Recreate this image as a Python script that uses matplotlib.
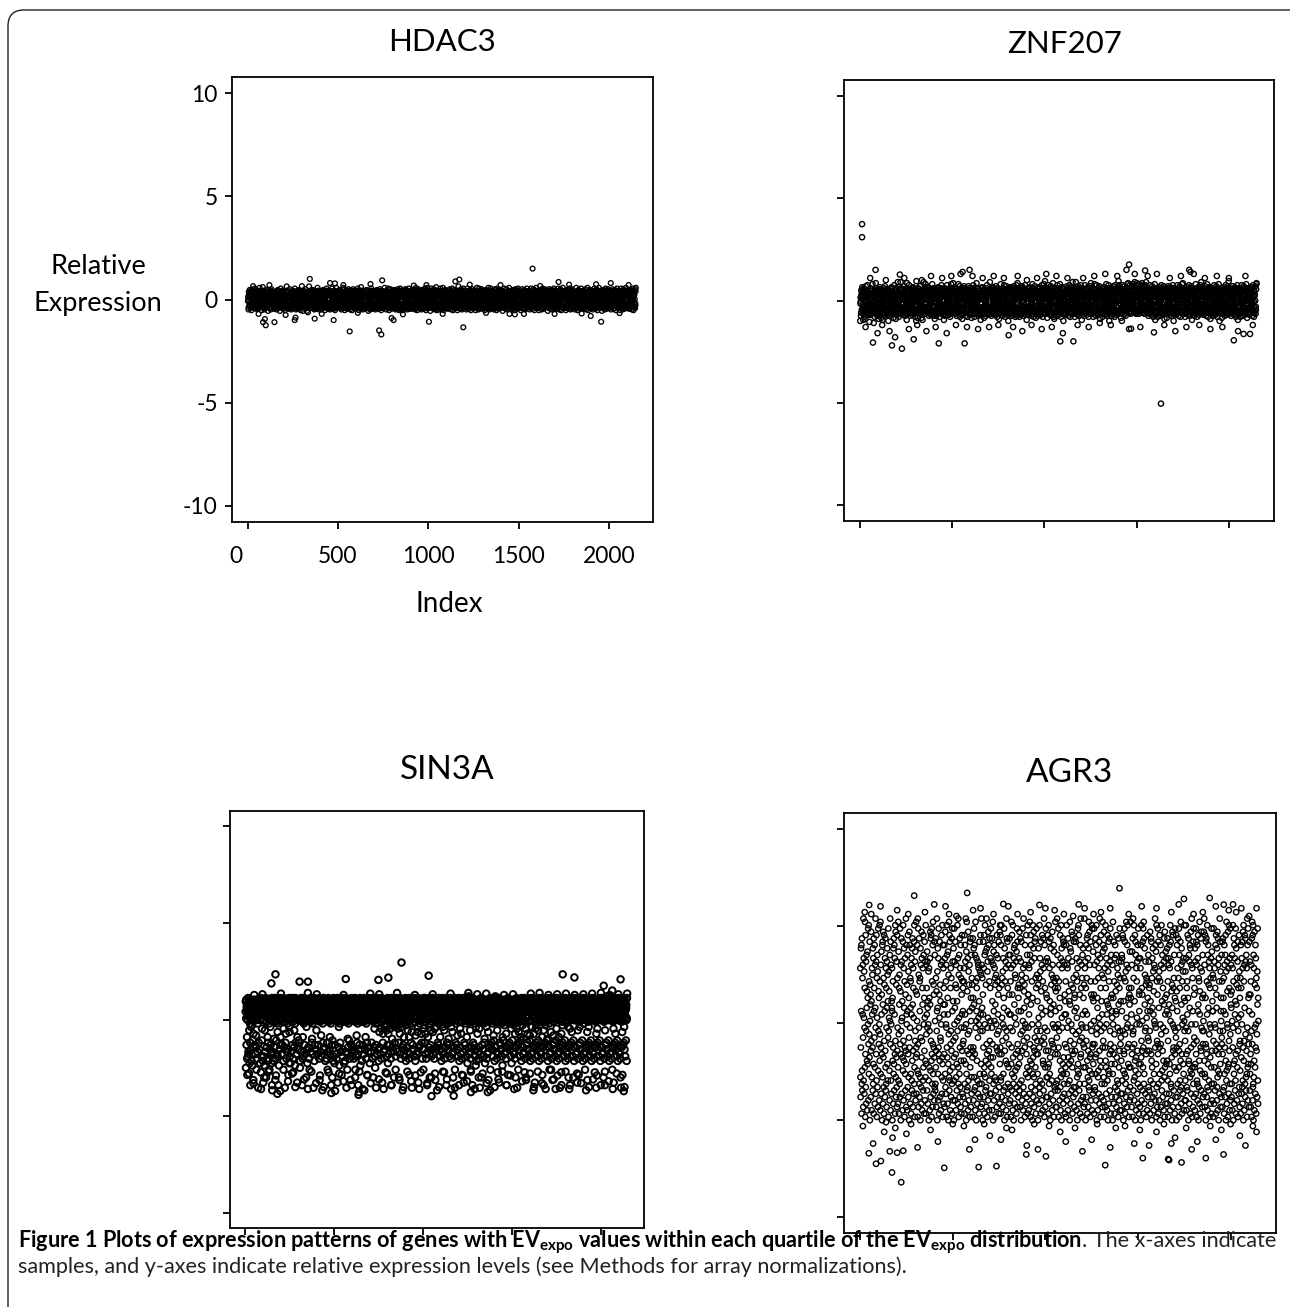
import numpy as np
import matplotlib
matplotlib.use("Agg")
import matplotlib.pyplot as plt
from matplotlib import font_manager
from matplotlib.patches import FancyBboxPatch
from matplotlib.transforms import IdentityTransform, ScaledTranslation

available = {f.name for f in font_manager.fontManager.ttflist}


def pick(*names):
    for n in names:
        if n in available:
            return n
    return "DejaVu Sans"


LABEL_FONT = pick("Lato", "Open Sans", "DejaVu Sans")
CAPTION_FONT = pick("Liberation Sans Narrow", "Lato", "DejaVu Sans")

plt.rcParams["mathtext.fontset"] = "custom"
plt.rcParams["mathtext.rm"] = CAPTION_FONT
plt.rcParams["mathtext.bf"] = CAPTION_FONT + ":bold"

# ---------------------------------------------------------------- data
N_SAMPLES = 2150          # array samples along the Index axis
X_TICKS = [0, 500, 1000, 1500, 2000]
Y_TICKS = [-10, -5, 0, 5, 10]
GENES = ["HDAC3", "ZNF207", "SIN3A", "AGR3"]

# Per-sample expression, one character per sample in index order.
# Characters are quantised levels; each coding lists (characters, first value, step).
DIGITS = "0123456789"
LOWER = "abcdefghijklmnopqrstuvwxyz"
UPPER_LO = "ABCDEFGHIJKLM"
UPPER_HI = "NOPQRSTUVWXYZ"

HDAC3_CODING = [(UPPER_LO, -0.86, 0.034), (LOWER, -0.418, 0.034), (UPPER_HI, 0.466, 0.034)]
hdac3_levels = (
    "kqmLbxtrewNdjspvazhgKuycofnimOlwqebtxrPagvkdsjMhun"
    "pfhrzaMwkbuqdeyQjcnitglovsKxmphrRbzfuwaejLgdckqtyn"
    "wlybNgdqoxcmJeksuvtarfhpizkLwqbOmegjydtxunsrcMfavp"
    "tdjxpbgrwLckmzsyeNhaqfuvoliJdnbkPtwxgrcmezqasyhMuf"
    "ecvmuKtiqrhynxgSbfazdowlpjMeksrcOvbqutnyLxgmdiwhaf"
    "zgsoaitqmePxhdjbLyrnvwkcufglMsbzNqxdoteaypwKrjmhiv"
    "mxqhwfJcnzyrbdkugeOstlvapimJxqtcwHnrbdgSyfheuzkoal"
    "yrekdgvpNtxcbhfsiuLzqmwajolyMkrenxbvQdtpcszhLgwuim"
    "hbtqaymrLkgvxofzpdNescwjuniKblqrthdzPayxgmvocMsewf"
    "nafzcLvexshgrqbdPmtwkyujoilMpczabKrenvgQxsdhftyuwm"
    "qcpgxvtebNhysawmkzLrdiuofjlnQbcvetxOgKmhrpsawyzdMk"
    "gwvskeadOzrnqhtcbLmxyfpijulKgsvdwOneazqtrbyxhMckpf"
    "uidmnyrhzPqgcxwKeabsvtljfkoRmdiqyuzhgLnwcexrbaMspt"
    "lkrwqdzNbusgetcphyJxamvifnoLkwrqzsPbdgutcehMxyaljv"
    "setybghLxuawrqzcNpdmvkfjoiMltesyOrbghuaKxwzqncdvpm"
    "ajxgrwmtQbsdhkeyuLnzcvpfoliPjaxgrKwmtbsOdhkeyMunzq"
    "rmyuhxefbpNczqagkwLsdtvjolnMrmOyuhxefbKpczqaPgkwLs"
    "bnzqewcyatKrdhsxgMuvfpjOlimbNnzqewLcyatrdPhsxgMuvf"
    "dvksapzgtcMmyehruNwbqxfjoliLdvkQsapzgtKcmyehOrwbqx"
    "xhcdrqmsepaLgzyNwubtvkfjonMixhcdPrqmsKepagzyQwubtv"
    "cteawymqhksJdgrzuPbvnxflopiMcteOawymLqhksdgRrzubKv"
    "fumrbtxwdnqeLkszaPhyvcgjoliMfumQrbtxKwdnqeskNzahyv"
    "oqeynctsjbwMfakrvhxOuzdgmlpLiqeyPnctsKjbwfakrNvhxu"
    "vyfpxzanetrKbqhcmSwugdsiljoMvyfOpxzaLnetrbqhPcmwug"
    "izdqmuwgvscLfkhatPeyrbonxjlMizdNqmuwKgvscfkhOateyr"
    "wqvagbhnrmzdKsxtueyQpfcloijLwqvPagbhnMrmzdsxtOueyp"
    "hmsxjeqcazrwKgnbdvtuNfyoplilMhmsxQjeqcLazrwgnbPdvt"
    "kbwetnuzhysdLmaxgqcrOvpfjoimKbwePtnuzMhysdmaxNgqcr"
    "naxqrvkeyubzJgdmtswcPhfpolijMnaxqOrvkeLyubzgdmtQsw"
    "ergysfqxctmwLbnadkzuNhvjpoliKergyOsfqxMctmwbnadPkz"
    "gtczymbwrqxaKesnhudfOvjkpliMgtczNymbwLrqxaesnhPudf"
    "yjdvqgrktnzmLxsbwacePuhfiolpMyjdvOqgrkKtnzmxsbwQac"
    "mrnbchezatgsKqwdxvyuNfjkolpiLmrnbPchezMatgsqwdOxvy"
    "tsxwhqnvcdyeJbgrkzamOufjpliMtsxwNhqnvLcdyebgrPkzam"
    "qbhzkecxvrsdMtynuwagPflpjioLqbhzOkecxKvrsdtynQuwag"
    "dkyrxsqhzamvKcntwebgNufplojiMdkyrPxsqhLzamvcntOweb"
    "zhgtmqkwsxydLbrcnaevQufpijolKzhgtNmqkwMsxydbrcPnae"
    "bexcfnysgqzkMwrtdvahOujmpliLbexcQfnysKgqzkwrtNdvah"
    "xcaqzdrehwmbLktgsynvPufjoliMxcaqOzdreKhwmbktgQsynv"
    "ryqmntckzdgsJwaexbhvNufplojiLryqmPntckMzdgswaeOxbh"
    "saxgefzqkrmyLdwncbtvOuhpilojMsaxgNefzqKkrmydwnPcbt"
    "hrmazqydbscgKtxwnevkPufjoliLhrmaOzqydMbscgtxwQnevk"
    "fdkzqbmrwsgxMtcnaheyNujpliovLfdkPzqbmKrwsgtcnOaheyQ"
)
hdac3_outliers = [
    (1578, 1.5), (344, 1.0), (745, 0.93), (456, 0.8), (483, 0.78), (1172, 0.97),
    (1150, 0.88), (1722, 0.85), (2011, 0.8), (565, -1.55), (728, -1.5), (740, -1.7),
    (1194, -1.35), (1004, -1.08), (1958, -1.08), (85, -1.1), (100, -1.25), (148, -1.1),
    (797, -0.9), (808, -1.0), (371, -0.93), (476, -1.0), (260, -1.0), (265, -0.88),
    (1900, -0.8), (1450, -0.7), (1530, -0.7), (60, -0.7), (95, -0.95),
    (30, 0.65), (120, 0.7), (210, -0.75), (300, 0.65), (410, -0.7), (530, 0.7),
    (610, -0.65), (680, 0.75), (860, -0.72), (920, 0.68), (990, 0.7), (1080, -0.7),
    (1230, 0.72), (1320, -0.65), (1400, 0.7), (1480, -0.72), (1620, 0.66), (1700, -0.7),
    (1780, 0.72), (1850, -0.68), (1930, 0.74), (2060, -0.66), (2110, 0.7),
]

ZNF207_CODING = [(UPPER_LO, -1.3, 0.05), (LOWER, -0.65, 0.05), (UPPER_HI, 0.65, 0.05)]
znf207_levels = (
    "GkqmLbxtrewNdjspvHazhgKuycofnImOlwqebtxrPagvkdsjMhuFn"
    "pfhrzaMwkbuqdeyQjcnitgElovsKxmphrRbzfuwaejLgdckqtyIn"
    "wlybNgdqoxcmJeksuvtHarfhpizkLwqbOmegjydtxunsrcMfavpG"
    "tdjxpbgrwLckmzsyeNhaqfuvoliJdnbkPtwxgrcmIezqasyhMufS"
    "ecvmuKtiqrhynxgSbfazdowlpjMeksrcOvbqutnyLxgmdiwhaHfR"
    "zgsoaitqmePxhdjbLyrnvwkcufglMsbzNqxdoteaypwKrjmhivGT"
    "mxqhwfJcnzyrbdkugeOstlvapimJxqtcwHnrbdgSyfheuzkoalQ"
    "yrekdgvpNtxcbhfsiuLzqmwajolyMkrenxbvQdtpcszhLgwuimI"
    "hbtqaymrLkgvxofzpdNescwjuniKblqrthdzPayxgmvocMsewfH"
    "nafzcLvexshgrqbdPmtwkyujoilMpczabKrenvgQxsdhftyuwmR"
    "qcpgxvtebNhysawmkzLrdiuofjlnQbcvetxOgKmhrpsawyzdMkI"
    "gwvskeadOzrnqhtcbLmxyfpijulKgsvdwOneazqtrbyxhMckpfJ"
    "uidmnyrhzPqgcxwKeabsvtljfkoRmdiqyuzhgLnwcexrbaMsptH"
    "lkrwqdzNbusgetcphyJxamvifnoLkwrqzsPbdgutcehMxyaljvS"
    "setybghLxuawrqzcNpdmvkfjoiMltesyOrbghuaKxwzqncdvpmI"
    "ajxgrwmtQbsdhkeyuLnzcvpfoliPjaxgrKwmtbsOdhkeyMunzqG"
    "rmyuhxefbpNczqagkwLsdtvjolnMrmOyuhxefbKpczqaPgkwLsR"
    "bnzqewcyatKrdhsxgMuvfpjOlimbNnzqewLcyatrdPhsxgMuvfH"
    "dvksapzgtcMmyehruNwbqxfjoliLdvkQsapzgtKcmyehOrwbqxJ"
    "xhcdrqmsepaLgzyNwubtvkfjonMixhcdPrqmsKepagzyQwubtvT"
    "cteawymqhksJdgrzuPbvnxflopiMcteOawymLqhksdgRrzubKvI"
    "fumrbtxwdnqeLkszaPhyvcgjoliMfumQrbtxKwdnqeskNzahyvG"
    "oqeynctsjbwMfakrvhxOuzdgmlpLiqeyPnctsKjbwfakrNvhxuS"
    "vyfpxzanetrKbqhcmSwugdsiljoMvyfOpxzaLnetrbqhPcmwugH"
    "izdqmuwgvscLfkhatPeyrbonxjlMizdNqmuwKgvscfkhOateyrR"
    "wqvagbhnrmzdKsxtueyQpfcloijLwqvPagbhnMrmzdsxtOueypI"
    "hmsxjeqcazrwKgnbdvtuNfyoplilMhmsxQjeqcLazrwgnbPdvtG"
    "kbwetnuzhysdLmaxgqcrOvpfjoimKbwePtnuzMhysdmaxNgqcrT"
    "PnaxqrvkeyubzJgdmtswcPhfpolijMnaxqOrvkeLyubzgdmtQsw"
    "eRgysfqxctmwPbnadkzuNhvjpoliQergyOsfqxSctmwbnadPkzR"
    "gtczymbwrqxaQesnhudfOvjkpliRgtczNymbwPrqxaesnhPudfS"
    "yjdvqgrktnzmLxsbwacePuhfiolpMyjdvOqgrkKtnzmxsbwQacH"
    "mrnbchezatgsKqwdxvyuNfjkolpiLmrnbPchezMatgsqwdOxvyI"
    "tsxwhqnvcdyeJbgrkzamOufjpliMtsxwNhqnvLcdyebgrPkzamG"
    "qbhzkecxvrsdMtynuwagPflpjioLqbhzOkecxKvrsdtynQuwagR"
    "dkyrxsqhzamvKcntwebgNufplojiMdkyrPxsqhLzamvcntOwebH"
    "zhgtmqkwsxydLbrcnaevQufpijolKzhgtNmqkwMsxydbrcPnaeS"
    "bexcfnysgqzkMwrtdvahOujmpliLbexcQfnysKgqzkwrtNdvahI"
    "xcaqzdrehwmbLktgsynvPufjoliMxcaqOzdreKhwmbktgQsynvG"
    "ryqmntckzdgsJwaexbhvNufplojiLryqmPntckMzdgswaeOxbhT"
    "saxgefzqkrmyLdwncbtvOuhpilojMsaxgNefzqKkrmydwnPcbtH"
    "hrmazqydbscgKtxwnevkPufjoliLhrmaOzqydMbscgtxwQnevkJ"
    "fdkzqbmrwsgxMtcnaheyNujpliovLfdkPzqbmKrwsgtcnOaheyQR"
)
znf207_outliers = [
    (11, 3.74), (11, 3.1), (1632, -5.05), (84, 1.5), (1459, 1.76), (1546, 1.47),
    (1785, 1.5), (1792, 1.4), (594, 1.5), (556, 1.4), (216, 1.27), (173, -2.2),
    (227, -2.36), (70, -2.06), (427, -2.1), (567, -2.1), (1157, -2.0), (1086, -2.0),
    (2027, -1.95), (806, -1.7), (1594, -1.56), (1459, -1.4), (1470, -1.38),
    (2080, -1.64), (2115, -1.64), (291, -1.9),
    (30, -1.3), (55, 1.1), (95, -1.6), (120, -1.2), (140, 1.0), (160, -1.5), (190, -1.8),
    (240, 1.1), (265, -1.4), (310, -1.2), (335, 1.0), (360, -1.5), (385, 1.2), (410, -1.3),
    (445, 1.1), (470, -1.6), (495, 1.2), (520, -1.2), (545, 1.3), (580, -1.3), (610, 1.2),
    (640, -1.4), (665, 1.1), (700, -1.3), (725, 1.2), (750, -1.2), (780, 1.1), (830, -1.3),
    (855, 1.2), (880, -1.5), (905, 1.0), (930, -1.2), (960, 1.1), (985, -1.4), (1010, 1.3),
    (1040, -1.3), (1065, 1.2), (1100, -1.6), (1125, 1.1), (1180, -1.2), (1210, 1.1),
    (1240, -1.3), (1270, 1.2), (1300, -1.1), (1330, 1.3), (1360, -1.2), (1395, 1.2),
    (1420, -1.0), (1445, 1.5), (1490, 1.3), (1520, -1.3), (1560, 1.2), (1610, 1.3),
    (1650, -1.2), (1680, 1.1), (1710, -1.5), (1740, 1.2), (1770, -1.3), (1810, 1.3),
    (1840, -1.2), (1870, 1.1), (1900, -1.4), (1935, 1.2), (1965, -1.3), (2000, 1.1),
    (2050, -1.5), (2090, 1.2), (2130, -1.2),
]

SIN3A_CODING = [(DIGITS, -3.8, 0.133), (UPPER_LO, -2.5, 0.118),
                (LOWER, -1.0, 0.088), (UPPER_HI, 1.27, 0.035)]
sin3a_levels = (
    "qwAmxKtrbE7lsFyoHnwqGfuCrjL3xvIhtpDswiBqlMvx5dJumNr"
    "vKrxtGnwqcJulEvmxHjtw2qsLpvxIurwCtvl8yqFxsMgwOrvDu4"
    "tFxlqBwvfsHrnuy6kxJtpwqDbrvLmsuEjx9wlIthvKqrGosyCw1"
    "sHwqnvDrxaltJuymE5wkqrMsvxGjtpeFwu3qolBrvxIsytKbmPu"
    "uqGxrmKvwtlsDgyqJknu2vrxLwdtqEsopHuvjwIrx7tlyCheqFv"
    "rwCvtnHxqsluKymkE8rwqvJfxutBjsyLwoqrGvnx4btlIupsMqw"
    "xtLsqvDrnwlyHuqmx3kvEbtrFswjqyKuoxGlwvpq6rhtIsxCnuQ"
    "qvJuxrElt9wmsyqHknvrxLuatwGjpsq2lvoyDxrtKwnumsIqfvO"
    "tvGqxwrmKsulnEy5vqkxHtrwcsFuplq1vjwLxoyImrtsJnquDvl"
    "uxrEwqtLlvnsHmy8kwqrxIvbuGtpjs3qwvKlxoMmrDtywFnsqCu"
    "wsKvqxtGrnuElmyq4krwvxJhstBjupqLvwoHlxr7mysFntvIqkN"
    "rqCxtwvDmsuHlynq2kwxGrvatsJjqupMvwxEolr5mtsKyqnFuvI"
    "vxJtqwrEnsulHmyk9vqxFwrctsLupjvG3qxwolrKtmysBnqvIku"
    "qwDxvtrKsnulGmyk1qwvIxrbtsEjupvL7qwolxHrtmsJynqCvuP"
    "xtHvqwrLsnluEmyq6kvxJwrgtsFupjqK2vxwolrGtmsIynvDquO"
    "eJxpvusGnqgwEykt4rmuLdxvlqHiwspIthvx8jruFfqwnoKysCl"
    "dqGtmuvrKnwgsxEkqyl3vtaJwruiHoxvp6sqhLwtjrFxmvIyluQ"
    "piHwrgvuLkqtx5ndwGysorEqvhtJlwx1jusKmvrbIqwpFtxkyuD"
    "ilJsxkvtHrfqnuEwmbt7ysxGvrloLquwe2ptjxKvsrqIkwmFyuN"
    "qkDctrnxGuwmsvHqehy4ltxJrwjvuKpos8qtdwLxrvEunkqIygs"
    "uqLiktyrGdvxmEwqsp3ultHbxnvrJqowy6sjtKuxfvFqwrIkmyO"
    "eyGslrtqEwgvmH5unxstJhrq1pvwLlxouKyqjwsFrtbvIkxmqDu"
    "suHylhtwGrkxv8fqsEmunJwtrx3yovLlqspKjwtaIuxrvFnkqyP"
    "svEhqtkGrwexlH6vuqnJstrm2yoxLwjvqKlpusIcwrtFxkqvyDn"
    "sqJgtwlGrdxvE7kuqsHnwyt4rmoLxlvKwqsIjptuFbvxrCqwkyQ"
    "zsGqtlvHrfwxE9ukqvJtns3ymrLxloKwvqIpujFtsBhxvwDrkqO"
    "dvHsqtlEwrgxJ2kvunGqys6tmrKloxwIvpuFqjsLtavCrxwkqnP"
    "hvEsqlGtwreH5xukvJqnsy1mtrKlowLxqvIjpuFstcMrwxqDvky"
    "zvJsqlHtrwEfkx8uvqGnys4mtrLxloKwqvIpujFstBbrxMvwqkN"
    "ivGstqHlrwEdkx3uqvJnys7mtrKlowLxvqIjpuFstgCrwxMvkqO"
    "pHswiGqlvxEdum6rtkJywgq2nsuKvpxLewqmIuxkFrvbMtlsDyo"
    "xoJiurGwatHvly8qkxEsgwn5rvuKmtqLdvrIkxtFnwqMcsuDlyP"
    "xwGlthHvqrEosy1wdnJxtq4kuvKgrwLiptIxlqFwvfMsrnDuyQk"
    "uqHolrGvxsEytb7mwuJnqf3rtvKkxsLlisIwqnFvrxMaltDuyN"
    "puJvjwGrxtHlye9qvsEmwu5xnrKtckLquqIxrmFvwtMlsgDyqO"
    "oqGrvnHxbtElup2sqwJmxv8drytKkiqLurwIvtnFxqsMluyDkP"
    "oxHlwvGpqrEhts6xnuJmvg3wqtKrlsLyexIstqFvrnMwlyDuqN"
    "lvJoyxGrtwHnum4sqfEvxk7rwtKhlyLusqIvuxFrltMwmsDyqO"
    "vjGwxoHymrEtsn1quvJlxe5wrkKtqhLvstIvqxFwrmMsulDnyP"
    "wvHlxoGmrtEywn8squJkvx2drlKwtgLqsuIxrwFqtlMvnsDmyQ"
    "vwJolxGrmyHsnt6vqkEuxw3frvKltqLszwIsvqFxtrMnulDmyN"
    "vwGxolHrmtEsyq9nuvJkxg4rwlKtqsLvdrIqxtFwvmMsulDynO"
    "qxHwolGrtmEysn2qvkJuxe7rwtKlqsLvhvIxtqFwrnMsulDmyP"
)
# lower scatter beneath the dense band (index, value)
sin3a_lower = [
    (20, -2.8), (45, -3.3), (62, -2.6), (88, -3.6), (105, -3.0), (131, -2.7), (150, -3.4),
    (172, -2.9), (196, -3.7), (214, -2.6), (240, -3.2), (263, -2.8), (281, -3.5), (307, -2.5),
    (330, -3.1), (352, -3.6), (371, -2.7), (398, -3.3), (420, -2.9), (441, -3.5), (463, -2.6),
    (489, -3.0), (505, -3.7), (528, -2.8), (552, -3.2), (574, -2.6), (597, -3.4), (618, -3.0),
    (642, -2.7), (660, -3.6), (688, -2.9), (705, -3.3), (731, -2.5), (752, -3.1), (778, -3.6),
    (797, -2.8), (820, -3.4), (846, -2.6), (865, -3.0), (890, -3.5), (912, -2.7), (934, -3.2),
    (957, -2.9), (979, -3.6), (1002, -2.6), (1024, -3.3), (1047, -3.0), (1068, -2.8),
    (1090, -3.5), (1113, -2.7), (1135, -3.1), (1158, -3.6), (1180, -2.6), (1203, -3.4),
    (1225, -2.9), (1248, -3.2), (1270, -2.7), (1291, -3.6), (1314, -3.0), (1336, -2.8),
    (1359, -3.3), (1380, -2.6), (1403, -3.5), (1425, -3.1), (1447, -2.7), (1470, -3.4),
    (1492, -2.9), (1514, -3.6), (1537, -2.6), (1559, -3.2), (1580, -3.0), (1603, -2.8),
    (1625, -3.5), (1647, -2.7), (1670, -3.3), (1691, -3.6), (1713, -2.6), (1736, -3.1),
    (1758, -2.9), (1780, -3.4), (1803, -2.7), (1824, -3.6), (1847, -3.0), (1868, -2.8),
    (1891, -3.3), (1913, -2.6), (1935, -3.5), (1958, -3.1), (1980, -2.9), (2002, -3.4),
    (2025, -2.7), (2046, -3.2), (2069, -3.6), (2091, -2.8), (2113, -3.0), (2135, -3.5),
]
sin3a_outliers = [
    (879, 2.95), (169, 2.34), (146, 1.87), (1032, 2.27), (1787, 2.34), (1853, 2.18),
    (2113, 2.08), (805, 2.17), (2018, 1.75), (2066, 1.5), (305, 1.96), (352, 1.96),
    (565, 2.1), (749, 2.05), (484, -3.81), (637, -3.9), (640, -3.76), (1048, -3.97),
    (1173, -3.95), (2131, -3.71), (180, -3.85), (1747, -3.6), (1270, -3.76), (1365, -3.76),
]

AGR3_CODING = [(DIGITS + LOWER + UPPER_LO + UPPER_HI, -5.0, 0.17)]
agr3_levels = (
    "Kd7mQxR2bTf9HwLp4ZcNvJ8sEgY1kUaM5rOyDi3PhBtW6nXeGq"
    "jS0uFzC7lVoA3dKwIm9QbNh2TxEpR5gLyZs8MkUc1HvOaJ4fWrD"
    "nB6tXiGq3YeLm8PwCk0RdSz5VjHa2UoFx7NlTg9KbEs4MyQhIcA"
    "pW1rJvDf6OuZn3ScLt8AyKx0BiGm5QeTh9RwNk2XoVd7FjMa4Ul"
    "Hs5gYcPq2EzIb7WnDk0LrTu8MvAj3SfXo6KiQy1GmNe9ClZh4Rw"
    "tF3xOaUk7JdBp0VmRs5HyGe2LwNc9QiTz4KlEv8SbXg1MoPr6Dj"
    "Ym8kCuRf1ZnWe4IsTb7GxHd0QpLa5VjNo3EzKc9UgOt2BlSv6Mi"
    "dX2hLqEw9PsMy5AtJc0KgBr3NzVf7ToUi1WkGb4RnYe8FmCj6Sa"
    "Ou9bTgHl4DrZx0JyQe6NmWk2CvSi7FpAo3LtUd8MjXh1RcKz5Ew"
    "kR4zNeVa8GtLs1XmOj5BwPh0IqYd9UcSf3EnKr7HlTb2WxMg6Ao"
    "Qc0jWtMy6SpFk3LdEh9AuXr5NgZb1IvOe7TmKa4RiHs2CwUl8Gn"
    "xE7oGiKs2UbRw5MhZt0PeYl9DaNq3VcJk6FrLx1SgTm4BuOd8Hy"
    "Fj1TlBm6QzWd9RkOa3YsGu0NxEi5HcMp8LvKt2AbSe7JrUw4IhZ"
    "bL5yHr0CwSm7KeUg2OtXd9PiFa4ZnQk1JsMv6VhRl3GcTo8EuNj"
    "Wg8eMsT3AnYj0LbPx6RuKd1HzFc9ItOm4UqGl7NwCr2SaEk5VhX"
    "mU2cRdXk7FvHo4JtNe9ByWs0QlGa6MiKp3ZrTh1SxEb8LgOn5Cw"
    "Ta6OsGw1KhYm9UeCr3XjLb0NdQz5RvIf8HkMt2PaWg4SnEl7BxF"
    "hN9VbEj4TqMx0ScIl6GrWu3KaZo8DyFm1RtLs5HeUk7ApOg2XdC"
    "Cs3LwKf8YnOi1UzRa5MhGt0BeXj7QmVd4NlSp9TgHb2EkWr6IoA"
    "ek0FtQv5HmXa8NcJr2SyDo6LbUw3GiTh9KpZn1RsEg4MxWl7CdB"
    "Nr7dUgMl2XhSb5KeAj0TwQy8FoIc3VnLt6HzRm1PsGa9EkYx4Db"
    "sH4pZcOk9EtWm1GrLy6BiUa3NdXf0QvKs7MhTe5SjRb8LwCn2Ag"
    "Gw1RmXe6LsKb3TjNu8DhAc0YzQo5PiFt9VlMg2UrEk7HaSn4BxC"
    "lT8aSqIy3NvGd0KfWh5XeUr9MbCo2RjZk6EtLp1HsOw7QnBg4Fm"
    "Zb5KxMg0EsRo7HwTi2UdNl4QaYc9VfLj1SkGt6CrXe3WmBn8PhA"
    "uC2WnLa9GjTe6RkXq0MsBy3OdHf8KvSl5ZtNi1EgUr7AbIw4YmP"
    "Ro6HdVs1QbKm4XiEg8NtAw3LcUz0JfSy5GeTk9MrWn2BlOh7Cx"
    "vL0eYtBk5SmGq2NhRa7DxOw4UjFc9KsIb1TzMg6ElWr3HnAp8"
    "Mi3OxNc8UrTf0AlHk5WeSq2GbJd7YvLs4RmXt9KhBn1EgCz6Pa"
    "gY7BsEw4LkPm1TqZr9HcXn6AdUi0SfOj3KtGv8MlRb5WeNh2Cx"
    "Dt4NaKh0RjXo6ElCu9SgWm2YbTe5QzIr8MsFk1HvGl3UxBp7Oa"
    "oM9ElFr2VxAc5TkSi0HgNy7QbJw3DeLu8KtZm6RsPh1XaGo4Cn"
    "Wk2SbHy6JmUe0GtRn4LqXc9AfOl7EsKi3MzTd1VgBw5PrNh8Cx"
    "iQ5TcGo1NwLz8RhKe3XuSb6MaDj0FyVt4UlEm9HsOg2BkWr7Ap"
    "Uf0DmRx7KbTs4HgWl1OnEc9SiYa5LzQk2GtMv8JhNe3BuXr6Ao"
    "cJ6XsNk3EaGw9UlBr0TiOh5MyRd2QfVm8LtZe1KgHx4SbWn7Cp"
    "Eg3QhMt8WkSo1LcRb6NxUz0HaGi5YwDf2KmTl9VsJe4BrOn7Cu"
    "rV8ZiLe4UdBn0SmTk7GwXa3OhRy9FcMq1KtEj5HsNg2WbPl6Ax"
    "Ix1HoWb5MgKt9EsRl2UnCy6QaVd3TfLk0NmGe8ZrSh4JxBu7Op"
    "nG4SkTr9BxHa2ReLm7OwUi0JcYf5MtDs1VgKh8XoEl3NbWq6Cz"
    "Ly7DbOu3KmXs0GhTe5RiNw9AcWk2QzFt6HgMl1SrEv8UaJn4Bo"
    "fH2RwEj8NtSa5KcVm0XiGo3LyUb7TqMd9OlKe1ZsRg6WhBn4Cx"
    "Sp9MeCk4GhLr1TwYn6UaXb0OdKi3VsFg8RmNt2HlEq7JzWc5Bu"
)
agr3_outliers = [
    (1400, 6.93), (578, 6.69), (292, 6.55), (1748, 6.38), (1887, 6.43), (49, 6.07),
    (461, 6.0), (773, 6.12), (968, 6.07), (1963, 6.09), (2013, 6.1), (2058, 5.9),
    (1212, 5.9), (60, 5.6), (200, 5.8), (350, 5.7), (520, 5.5), (650, 5.9), (850, 5.6),
    (1050, 5.8), (1150, 5.5), (1300, 5.7), (1600, 5.9), (1800, 5.6), (1990, 5.8),
    (2100, 5.5), (25, 5.7), (110, 6.0), (260, 5.6), (400, 6.1), (480, 5.6), (610, 5.8),
    (720, 5.6), (800, 6.0), (920, 5.7), (1000, 5.9), (1100, 5.6), (1180, 6.1), (1260, 5.6),
    (1350, 5.9), (1450, 5.6), (1520, 6.0), (1680, 5.7), (1720, 6.1), (1850, 5.7),
    (1920, 6.0), (2030, 5.7), (2140, 5.9),
    (222, -8.19), (172, -7.69), (86, -7.24), (112, -7.1), (454, -7.45),
    (640, -7.41), (736, -7.36), (1323, -7.31), (1735, -7.17), (1866, -6.95),
    (1526, -6.95), (1663, -7.0), (1668, -7.05), (47, -6.7), (200, -6.67), (233, -6.57),
    (897, -6.76), (1003, -6.86), (1962, -6.76), (130, -5.6), (175, -5.9), (250, -5.7),
    (500, -5.2), (620, -6.0), (700, -5.8), (820, -5.5), (900, -6.3), (1080, -5.6),
    (1250, -6.0), (1380, -5.4), (1480, -6.2), (1600, -5.6), (1700, -5.9), (1820, -6.1),
    (1950, -5.5), (2050, -5.8), (2120, -5.3),
    (15, -5.3), (70, -6.2), (140, -5.1), (160, -6.6), (190, -5.4), (275, -5.2), (310, -6.4),
    (380, -5.5), (420, -6.1), (560, -5.3), (590, -6.5), (670, -5.2), (760, -6.0), (790, -5.4),
    (940, -5.2), (960, -6.5), (1020, -5.3), (1110, -6.1), (1160, -5.4), (1200, -6.6),
    (1280, -5.2), (1350, -6.4), (1430, -5.3), (1510, -5.5), (1560, -6.3), (1640, -5.2),
    (1680, -6.2), (1760, -5.4), (1790, -6.5), (1890, -5.3), (1920, -6.0), (2000, -5.2),
    (2080, -6.3), (2140, -5.6),
]

CAPTION_BOLD = (r"Figure 1 Plots of expression patterns of genes with $\mathbf{EV}_{\mathbf{expo}}$"
                r" values within each quartile of the $\mathbf{EV}_{\mathbf{expo}}$ distribution")
CAPTION_REST = ". The x-axes indicate"
CAPTION_LINE2 = ("samples, and y-axes indicate relative expression levels "
                 "(see Methods for array normalizations).")


def decode(levels, coding):
    lookup = {}
    for chars, first, step in coding:
        for i, ch in enumerate(chars):
            lookup[ch] = first + step * i
    return np.array([lookup[c] for c in levels])


def band(levels, coding):
    vals = decode(levels, coding)
    return np.linspace(1, N_SAMPLES, len(vals)), vals


def points(pairs):
    arr = np.array(pairs, dtype=float)
    return arr[:, 0], arr[:, 1]


# ---------------------------------------------------------------- figure
W, H = 1290, 1307
fig = plt.figure(figsize=(W / 100, H / 100), dpi=100)
fig.patch.set_facecolor("white")

# rounded frame around the whole figure
frame = FancyBboxPatch((8, -40), 1310, H - 10 + 40,
                       boxstyle="round,pad=0,rounding_size=16",
                       transform=IdentityTransform(), facecolor="none",
                       edgecolor="#222222", linewidth=1.0)
fig.add_artist(frame)


def panel(rect, title, title_xy, title_size, series, s, lw, labelled=False):
    left, right, top, bottom = rect
    ax = fig.add_axes([left / W, 1 - bottom / H, (right - left) / W, (bottom - top) / H])
    kw = dict(s=s, facecolors="none", edgecolors="black", linewidths=lw)
    for xs, ys in series:
        ax.scatter(xs, ys, **kw)
    ax.set_xlim(-87, 2245)
    ax.set_ylim(-10.8, 10.8)
    ax.set_xticks(X_TICKS)
    ax.set_yticks(Y_TICKS)
    for sp in ax.spines.values():
        sp.set_linewidth(1.3)
    ax.tick_params(direction="out", length=5.2, width=1.3, color="black")
    if labelled:
        ax.tick_params(axis="y", pad=5, labelsize=16.5)
        ax.tick_params(axis="x", pad=12, labelsize=16.5)
        ax.set_yticklabels([str(v) for v in Y_TICKS], family=LABEL_FONT)
        ax.set_xticklabels([str(v) for v in X_TICKS], family=LABEL_FONT)
        first = ax.get_xticklabels()[0]
        first.set_transform(first.get_transform() +
                            ScaledTranslation(-0.12, 0, fig.dpi_scale_trans))
    else:
        ax.tick_params(labelleft=False, labelbottom=False)
    fig.text(title_xy[0] / W, 1 - title_xy[1] / H, title, ha="center", va="center",
             fontsize=title_size, family=LABEL_FONT)
    return ax


panel((232, 653, 77, 522), GENES[0], (442, 42), 22.5,
      [band(hdac3_levels, HDAC3_CODING), points(hdac3_outliers)],
      s=12, lw=0.95, labelled=True)
panel((844, 1274, 80, 521), GENES[1], (1065, 44), 22.5,
      [band(znf207_levels, ZNF207_CODING), points(znf207_outliers)],
      s=14, lw=1.0)
panel((230, 644, 811, 1228), GENES[2], (447, 770), 24,
      [band(sin3a_levels, SIN3A_CODING), points(sin3a_lower), points(sin3a_outliers)],
      s=22, lw=1.4)
panel((844, 1276, 813, 1233), GENES[3], (1070, 773), 24,
      [band(agr3_levels, AGR3_CODING), points(agr3_outliers)],
      s=15, lw=1.0)

# axis titles of the labelled panel
fig.text(449 / W, 1 - 604 / H, "Index", ha="center", va="center",
         fontsize=20, family=LABEL_FONT)
fig.text(98 / W, 1 - 267 / H, "Relative", ha="center", va="center",
         fontsize=19.5, family=LABEL_FONT)
fig.text(98 / W, 1 - 304 / H, "Expression", ha="center", va="center",
         fontsize=19.5, family=LABEL_FONT)

# caption: bold lead-in followed by regular text, fitted to the line width
renderer = fig.canvas.get_renderer()
x0, x1 = 18, 1277
y1, y2 = 1247, 1273


def caption_width(size):
    a = fig.text(0, 0, CAPTION_BOLD, fontsize=size, family=CAPTION_FONT, fontweight="bold")
    b = fig.text(0, 0, CAPTION_REST, fontsize=size, family=CAPTION_FONT)
    wa = a.get_window_extent(renderer).width
    wb = b.get_window_extent(renderer).width
    a.remove()
    b.remove()
    return wa, wb


base = 14.0
wa, wb = caption_width(base)
size = base * (x1 - x0) / (wa + wb)
wa, wb = caption_width(size)
fig.text(x0 / W, 1 - y1 / H, CAPTION_BOLD, fontsize=size, family=CAPTION_FONT,
         fontweight="bold", ha="left", va="baseline")
fig.text((x0 + wa) / W, 1 - y1 / H, CAPTION_REST, fontsize=size, family=CAPTION_FONT,
         ha="left", va="baseline", color="#222222")
fig.text(x0 / W, 1 - y2 / H, CAPTION_LINE2, fontsize=size, family=CAPTION_FONT,
         ha="left", va="baseline", color="#222222")

fig.savefig("out.png", dpi=100, facecolor="white")
